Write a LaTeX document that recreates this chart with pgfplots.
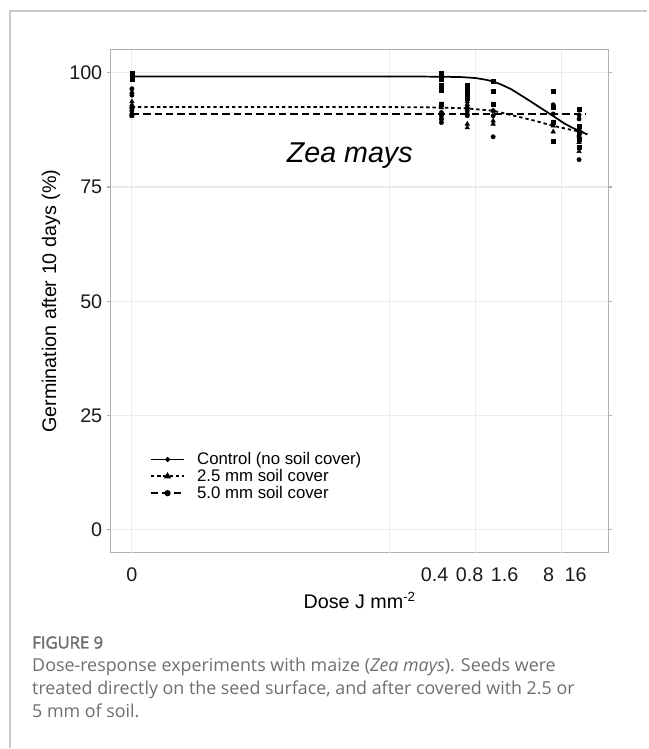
\documentclass[border=0pt]{standalone}
\usepackage{fontspec}
\setmainfont{Liberation Sans}
\newfontfamily\capfont{Open Sans}
\newfontfamily\capfontb[FakeBold=2]{Open Sans}
\usepackage{pgfplots}
\pgfplotsset{compat=1.18}
\definecolor{gridgray}{HTML}{EBEBEB}
\definecolor{framegray}{HTML}{C8C8C8}
\definecolor{panelgray}{HTML}{B0B0B0}
\definecolor{capgray}{HTML}{6E6E6E}
\definecolor{tickcol}{HTML}{1A1A1A}

\begin{document}
\begin{tikzpicture}
\begin{scope}[x=0.75pt,y=0.75pt]
  \path (0,0) rectangle (648,749);
  \draw[framegray, line width=0.9pt] (10,0) -- (10,738) -- (648,738);
  \node[anchor=base west, inner sep=0, font=\capfontb\fontsize{12.5}{14}\selectfont, text=capgray] at (32,100) {FIGURE 9};
  \node[anchor=base west, inner sep=0, font=\capfont\fontsize{13.4}{15}\selectfont, text=capgray] at (32,77) {Dose-response experiments with maize (\textit{Zea mays}). Seeds were};
  \node[anchor=base west, inner sep=0, font=\capfont\fontsize{13.4}{15}\selectfont, text=capgray] at (32,54) {treated directly on the seed surface, and after covered with 2.5 or};
  \node[anchor=base west, inner sep=0, font=\capfont\fontsize{13.4}{15}\selectfont, text=capgray] at (32,31) {5 mm of soil.};
\end{scope}

\begin{axis}[
  at={(83.25pt,147pt)}, anchor=south west,
  scale only axis, width=373.5pt, height=377.25pt,
  xmode=log, xmin=5.7e-5, xmax=35.2,
  ymin=-5, ymax=105,
  axis line style={panelgray, line width=0.8pt},
  ytick={0,25,50,75,100},
  xtick={1e-4,0.3334,0.851,2.17,7.06,14.55},
  xticklabels={0,0.4,0.8,1.6,8,16},
  x tick label style={yshift=-5pt},
  tick align=outside,
  major tick length=3pt,
  ytick style={panelgray, line width=0.8pt},
  xtick style={draw=none},
  extra x ticks={1e-4,0.1,1,10},
  extra x tick labels={},
  extra x tick style={xmajorgrids=true, major tick length=0pt},
  ymajorgrids=true,
  major grid style={gridgray, line width=0.8pt},
  ticklabel style={font=\fontsize{14.8}{16}\selectfont, text=tickcol},
  /pgf/number format/assume math mode=true,
  xlabel={Dose J mm\textsuperscript{\fontsize{10}{11}\selectfont -2}},
  ylabel={Germination after 10 days (\%)},
  label style={font=\fontsize{14.8}{16}\selectfont},
  xlabel style={yshift=2pt},
  clip=false,
  legend image code/.code={
    \draw[mark repeat=2,mark phase=2,#1] plot coordinates {(0pt,0pt) (12.5pt,0pt) (25pt,0pt)};
  },
  legend style={draw=none, fill=none, at={(0.078,0.205)}, anchor=north west,
    font=\fontsize{12.6}{13}\selectfont, inner sep=0pt, row sep=-2pt,
    /tikz/every odd column/.append style={column sep=7pt}},
  legend cell align=left,
]
\addlegendimage{black, line width=1.4pt, mark=*, mark size=1.1pt, mark options={solid}}
\addlegendentry{Control (no soil cover)}
\addlegendimage{black, line width=1.4pt, dash pattern=on 2.5pt off 2.2pt, mark=triangle*, mark size=1.8pt, mark options={solid}}
\addlegendentry{2.5 mm soil cover}
\addlegendimage{black, line width=1.4pt, dash pattern=on 5.5pt off 3pt, mark=*, mark size=1.6pt, mark options={solid}}
\addlegendentry{5.0 mm soil cover}

% fitted curves
\addplot[black, line width=1.3pt, forget plot] coordinates {
  (1e-4,99.2) (0.1,99.2) (0.4,99.15) (0.7,99.05) (1.0,98.85) (1.3,98.5)
  (1.6,98.1) (2.0,97.4) (2.6,96.4) (3.1,95.5) (3.7,94.6) (4.4,93.7)
  (5.3,92.7) (6.3,91.8) (7.6,90.8) (9.0,89.9) (10.8,88.9) (13.0,88.1)
  (15.5,87.4) (18,86.9) (20,86.5)
};
\addplot[black, line width=1.35pt, dash pattern=on 2.5pt off 2.2pt, forget plot] coordinates {
  (1e-4,92.5) (0.1,92.5) (0.25,92.45) (0.4,92.4) (0.8,92.2) (1.6,91.7)
  (2.8,90.6) (4.9,89.5) (7.6,88.5) (11.7,87.7) (19.3,86.8)
};
\addplot[black, line width=1.35pt, dash pattern=on 5.5pt off 3pt, forget plot] coordinates {
  (1e-4,91.0) (19,91.0)
};

% observations
\addplot[only marks, mark=square*, mark size=1.5pt, black, forget plot] coordinates {
  (1e-4,100) (1e-4,99.6) (1e-4,99.3) (1e-4,98.9) (1e-4,98.6)
  (0.4,100) (0.4,98.6) (0.4,97.2) (0.4,96.1) (0.4,93.1)
  (0.8,97.2) (0.8,96.5) (0.8,95.8) (0.8,95.1) (0.8,94.4)
  (1.6,98.1) (1.6,95.9) (1.6,93.1)
  (8,95.9) (8,92.4) (8,89.1) (8,85.1)
  (16,92.0) (16,88.4) (16,86.9) (16,85.5) (16,83.7)
};
\addplot[only marks, mark=triangle*, mark size=1.9pt, black, forget plot] coordinates {
  (1e-4,95.8) (1e-4,93.7) (1e-4,93.0) (1e-4,92.4) (1e-4,91.0) (1e-4,90.6)
  (0.4,92.4) (0.4,93.1) (0.4,91.3) (0.4,89.9)
  (0.8,93.7) (0.8,93.1) (0.8,92.4) (0.8,88.8) (0.8,88.0)
  (1.6,91.7) (1.6,89.5) (1.6,88.8)
  (8,88.4) (8,87.1) (8,89.1)
  (16,87.7) (16,86.2) (16,84.8) (16,82.8)
};
\addplot[only marks, mark=*, mark size=1.6pt, black, forget plot] coordinates {
  (1e-4,95.1) (1e-4,92.4) (1e-4,91.7) (1e-4,91.0) (1e-4,90.6) (1e-4,96.5)
  (0.4,90.6) (0.4,89.9) (0.4,89.1) (0.4,91.3)
  (0.8,91.7) (0.8,91.0) (0.8,90.6) (0.8,92.4)
  (1.6,90.6) (1.6,86.0) (1.6,91.7)
  (8,93.0) (8,91.0)
  (16,90.8) (16,89.9) (16,81.0) (16,86.2)
};

\node[font=\fontsize{21.5}{24}\selectfont\itshape] at (axis cs:0.0343,81.8) {Zea mays};
\end{axis}
\end{tikzpicture}
\end{document}
